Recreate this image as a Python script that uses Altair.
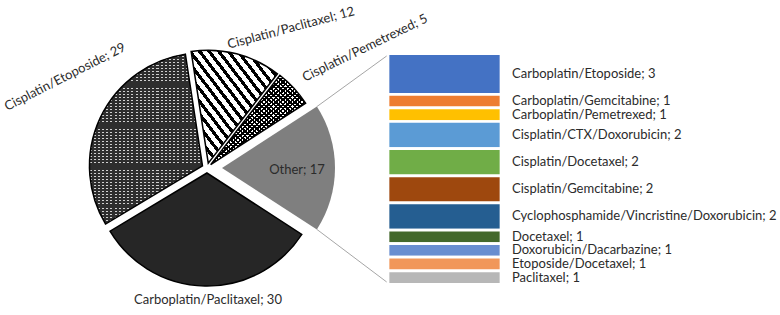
import math
import altair as alt
import pandas as pd

# ---------------- data ----------------
pie_labels = ["Other", "Carboplatin/Paclitaxel", "Cisplatin/Etoposide",
              "Cisplatin/Paclitaxel", "Cisplatin/Pemetrexed"]
pie_counts = [17, 30, 29, 12, 5]

other_labels = ["Carboplatin/Etoposide", "Carboplatin/Gemcitabine",
                "Carboplatin/Pemetrexed", "Cisplatin/CTX/Doxorubicin",
                "Cisplatin/Docetaxel", "Cisplatin/Gemcitabine",
                "Cyclophosphamide/Vincristine/Doxorubicin", "Docetaxel",
                "Doxorubicin/Dacarbazine", "Etoposide/Docetaxel", "Paclitaxel"]
other_counts = [3, 1, 1, 2, 2, 2, 2, 1, 1, 1, 1]
other_colors = ["#4472C4", "#ED7D31", "#FFC000", "#5B9BD5", "#70AD47",
                "#9E480E", "#255E91", "#43682B", "#698ED0", "#F1975A", "#B7B7B7"]

# ---------------- layout ----------------
W, H = 780, 315
CX, CY, R = 207, 168, 113
EXPLODE, OTHER_EXPLODE = 5, 15
BAR_X0, BAR_X1 = 388, 501
BAR_TOP, BAR_BOTTOM = 55, 283
GAP = 2.7
LABEL_X = 512
FONT = "Lato"
FS = 13
TXT = "#2b2b2b"

TOTAL = sum(pie_counts)
OTHER_TOTAL = sum(other_counts)
A0 = math.pi / 2 - math.pi * pie_counts[0] / TOTAL  # Other centred at 3 o'clock

pie_df = pd.DataFrame({"label": pie_labels, "count": pie_counts,
                       "order": list(range(len(pie_labels)))})
bar_df = pd.DataFrame({"label": other_labels, "count": other_counts,
                       "order": list(range(len(other_labels)))})


def stripes(x1, y1, x2, y2, n, ca, cb, frac):
    stops = []
    for i in range(n):
        s, m, e = i / n, (i + frac) / n, (i + 1) / n
        stops += [{"offset": round(s, 5), "color": ca},
                  {"offset": round(m, 5), "color": ca},
                  {"offset": round(m, 5), "color": cb},
                  {"offset": round(e, 5), "color": cb}]
    return {"gradient": "linear", "x1": x1, "y1": y1, "x2": x2, "y2": y2,
            "stops": stops}


CLEAR = "rgba(0,0,0,0)"

pie_base = (
    alt.Chart(pie_df)
    .transform_window(c1="sum(count)", sort=[alt.SortField("order")], frame=[None, 0])
    .transform_calculate(
        c0="datum.c1 - datum.count",
        mid=f"{A0} + 2*PI*(datum.c1 - datum.count/2)/{TOTAL}",
        ex=f"datum.label == 'Other' ? {OTHER_EXPLODE} : {EXPLODE}",
        txt="datum.label + '; ' + datum.count",
    )
    .transform_calculate(
        px=f"{CX} + datum.ex*sin(datum.mid)",
        py=f"{CY} - datum.ex*cos(datum.mid)",
    )
)

theta_scale = alt.Scale(domain=[0, TOTAL], range=[A0, A0 + 2 * math.pi])


def slice_layer(name, fill, stroke=None, sw=0):
    kw = dict(radius=R, fill=fill)
    if stroke:
        kw.update(stroke=stroke, strokeWidth=sw, strokeJoin="miter")
    else:
        kw.update(strokeWidth=0)
    return (
        pie_base.transform_filter(alt.datum.label == name)
        .mark_arc(**kw)
        .encode(
            theta=alt.Theta("c0:Q", scale=theta_scale),
            theta2="c1:Q",
            x=alt.X("px:Q", scale=None, axis=None),
            y=alt.Y("py:Q", scale=None, axis=None),
        )
    )


layers = [
    slice_layer("Other", "#7F7F7F"),
    slice_layer("Carboplatin/Paclitaxel", "#262626", "black", 1.5),
    slice_layer("Cisplatin/Etoposide", stripes(0, 0, 0, 1, 58, "#2e2e2e", "#cfcfcf", 0.7)),
    slice_layer("Cisplatin/Etoposide", stripes(0, 0, 1, 0, 27, CLEAR, "#2e2e2e", 0.5), "black", 1.5),
    slice_layer("Cisplatin/Paclitaxel", stripes(0, 1, 1, 0, 18, "white", "black", 0.58), "black", 1.5),
    slice_layer("Cisplatin/Pemetrexed", stripes(0, 0, 1, 1, 40, "white", "black", 0.5)),
    slice_layer("Cisplatin/Pemetrexed", stripes(0, 1, 1, 0, 40, CLEAR, "black", 0.5), "black", 1.5),
]

# connector lines from the Other slice to the bar
conn = (
    pie_base.transform_filter(alt.datum.label == "Other")
    .transform_calculate(h=f"PI*datum.count/{TOTAL}")
    .transform_calculate(
        rx=f"datum.px + {R}*cos(datum.h)",
        ryt=f"datum.py - {R}*sin(datum.h)",
        ryb=f"datum.py + {R}*sin(datum.h)",
    )
)
layers.append(conn.mark_rule(color="#A6A6A6", strokeWidth=1).encode(
    x=alt.X("rx:Q", scale=None, axis=None), y=alt.Y("ryt:Q", scale=None, axis=None),
    x2=alt.value(BAR_X0), y2=alt.value(BAR_TOP)))
layers.append(conn.mark_rule(color="#A6A6A6", strokeWidth=1).encode(
    x=alt.X("rx:Q", scale=None, axis=None), y=alt.Y("ryb:Q", scale=None, axis=None),
    x2=alt.value(BAR_X0), y2=alt.value(BAR_BOTTOM)))

# pie labels
label_pos = {
    "Carboplatin/Paclitaxel": (208, 300, 0),
    "Other": (297, 170, 0),
    "Cisplatin/Etoposide": (65, 77, 333),
    "Cisplatin/Paclitaxel": (291, 28, 345),
    "Cisplatin/Pemetrexed": (365, 48, 334),
}
for name, (lx, ly, ang) in label_pos.items():
    layers.append(
        pie_base.transform_filter(alt.datum.label == name)
        .mark_text(font=FONT, fontSize=FS, color=TXT, align="center",
                   baseline="middle", angle=ang)
        .encode(x=alt.value(lx), y=alt.value(ly), text="txt:N")
    )

# bar of "Other"
bar_base = (
    alt.Chart(bar_df)
    .transform_window(b1="sum(count)", sort=[alt.SortField("order")], frame=[None, 0])
    .transform_calculate(
        b0="datum.b1 - datum.count",
        bm="datum.b1 - datum.count/2",
        txt="datum.label + '; ' + datum.count",
    )
)
y_scale = alt.Scale(domain=[0, OTHER_TOTAL],
                    range=[BAR_TOP - GAP / 2, BAR_BOTTOM + GAP / 2])
layers.append(
    bar_base.mark_bar(stroke="white", strokeWidth=GAP).encode(
        x=alt.value(BAR_X0), x2=alt.value(BAR_X1),
        y=alt.Y("b0:Q", scale=y_scale, axis=None), y2="b1:Q",
        fill=alt.Color("label:N", scale=alt.Scale(domain=other_labels, range=other_colors),
                       legend=None),
    )
)
layers.append(
    bar_base.mark_text(font=FONT, fontSize=FS, color=TXT, align="left",
                       baseline="middle").encode(
        x=alt.value(LABEL_X),
        y=alt.Y("bm:Q", scale=y_scale, axis=None),
        text="txt:N",
    )
)

chart = (
    alt.layer(*layers)
    .resolve_scale(x="independent", y="independent")
    .properties(width=W, height=H, padding=0, autosize="none", background="white")
    .configure_view(strokeWidth=0)
)

chart.save("out.html", embed_options={"renderer": "svg", "actions": False})
